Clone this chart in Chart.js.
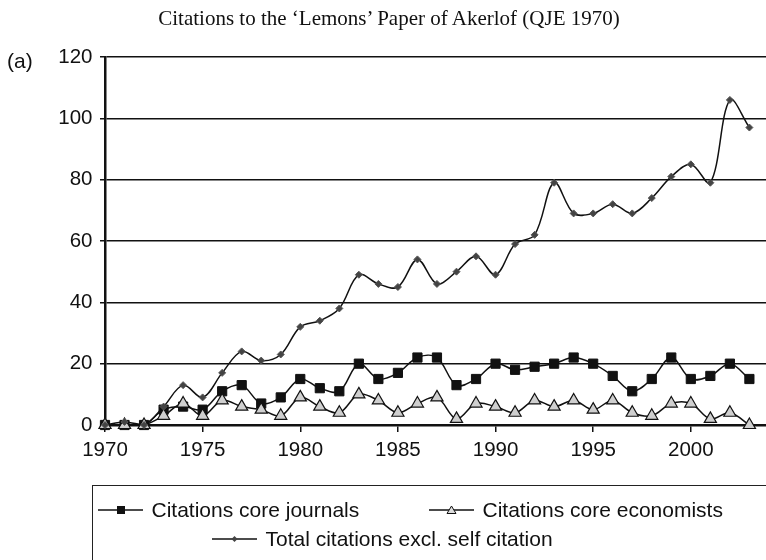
<!DOCTYPE html>
<html>
<head>
<meta charset="utf-8">
<script src="https://cdn.jsdelivr.net/npm/chart.js@4"></script>
<style>
  html, body { margin: 0; padding: 0; background: #fff; }
  #wrap { position: relative; width: 766px; height: 560px; overflow: hidden; }
  #chart { position: absolute; left: 0; top: 0; }
  #title { position: absolute; left: 0; width: 778px; top: 6px; text-align: center;
    font-family: "Liberation Serif", serif; font-size: 21px; color: #111; }
  #panel { position: absolute; left: 7px; top: 49px; font-family: "Liberation Sans", Arial, sans-serif;
    font-size: 21px; color: #111; }
  #legend { position: absolute; left: 92px; top: 485px; width: 700px; height: 100px;
    border: 1.5px solid #222; font-family: "Liberation Sans", Arial, sans-serif; font-size: 21px; color: #111; }
  .item { position: absolute; display: flex; align-items: center; white-space: nowrap; height: 24px; }
  .item svg { margin-right: 9px; }
</style>
</head>
<body>
<div id="wrap">
  <canvas id="chart" width="766" height="560"></canvas>
  <div id="title">Citations to the ‘Lemons’ Paper of Akerlof (QJE 1970)</div>
  <div id="panel">(a)</div>
  <div id="legend"></div>
</div>
<script>
const years = [];
for (let y = 1970; y <= 2003; y++) years.push(y);

const coreJournals = [0, 0, 0, 5, 6, 5, 11, 13, 7, 9, 15, 12, 11, 20, 15, 17, 22, 22,
  13, 15, 20, 18, 19, 20, 22, 20, 16, 11, 15, 22, 15, 16, 20, 15];
const coreEconomists = [0, 0, 0, 3, 7, 3, 8, 6, 5, 3, 9, 6, 4, 10, 8, 4, 7, 9,
  2, 7, 6, 4, 8, 6, 8, 5, 8, 4, 3, 7, 7, 2, 4, 0];
const totalExclSelf = [0, 1, 0, 6, 13, 9, 17, 24, 21, 23, 32, 34, 38, 49, 46, 45, 54, 46,
  50, 55, 49, 59, 62, 79, 69, 69, 72, 69, 74, 81, 85, 79, 106, 97];

const yTicks = [0, 20, 40, 60, 80, 100, 120];
const xTicks = [1970, 1975, 1980, 1985, 1990, 1995, 2000];

const seriesNames = ['Citations core journals', 'Citations core economists', 'Total citations excl. self citation'];

function pts(values) {
  return values.map((v, i) => ({ x: years[i], y: v }));
}

const tickFont = { family: '"Liberation Sans", Arial, sans-serif', size: 20.5 };

const ctx = document.getElementById('chart').getContext('2d');
new Chart(ctx, {
  type: 'line',
  data: {
    datasets: [
      {
        label: seriesNames[2],
        data: pts(totalExclSelf),
        borderColor: '#111',
        borderWidth: 1.5,
        pointStyle: 'rectRot',
        pointRadius: 3.5,
        pointBackgroundColor: '#444',
        pointBorderColor: '#555',
        pointBorderWidth: 1,
        tension: 0.35,
        clip: false,
        order: 0
      },
      {
        label: seriesNames[1],
        data: pts(coreEconomists),
        borderColor: '#111',
        borderWidth: 1.5,
        pointStyle: 'triangle',
        pointRadius: 7,
        pointBackgroundColor: '#cfcfcf',
        pointBorderColor: '#111',
        pointBorderWidth: 1.2,
        tension: 0.35,
        clip: false,
        order: 1
      },
      {
        label: seriesNames[0],
        data: pts(coreJournals),
        borderColor: '#111',
        borderWidth: 1.5,
        pointStyle: 'rect',
        pointRadius: 6.5,
        pointBackgroundColor: '#111',
        pointBorderColor: '#111',
        pointBorderWidth: 1,
        tension: 0.35,
        clip: false,
        order: 2
      }
    ]
  },
  options: {
    responsive: false,
    animation: false,
    layout: { autoPadding: false, padding: { left: 0, right: 0, top: 57, bottom: 100 } },
    plugins: {
      legend: { display: false },
      tooltip: { enabled: false },
      title: { display: false }
    },
    scales: {
      x: {
        type: 'linear',
        min: 1970,
        max: 2003.85,
        afterFit: s => { s.height = 35; },
        afterBuildTicks: s => { s.ticks = xTicks.map(v => ({ value: v })); },
        ticks: {
          color: '#111',
          padding: 6,
          font: tickFont,
          maxRotation: 0,
          callback: v => String(v)
        },
        grid: {
          drawOnChartArea: false,
          drawTicks: true,
          tickLength: 7,
          color: '#111',
          lineWidth: 1.5
        },
        border: { color: '#111', width: 2.5 }
      },
      y: {
        min: 0,
        max: 120,
        afterFit: s => { s.width = 105; },
        afterBuildTicks: s => { s.ticks = yTicks.map(v => ({ value: v })); },
        ticks: {
          color: '#111',
          padding: 7.5,
          font: tickFont
        },
        grid: {
          color: '#111',
          lineWidth: 1.5,
          tickLength: 5
        },
        border: { color: '#111', width: 2.5 }
      }
    }
  }
});

// legend drawn as html, symbols as small svg line + marker
function symbol(kind) {
  let m = '';
  if (kind === 0) m = '<rect x="19" y="3" width="8" height="8" fill="#111"/>';
  if (kind === 1) m = '<polygon points="22.5,3 27,10.5 18,10.5" fill="#ddd" stroke="#111" stroke-width="1"/>';
  if (kind === 2) m = '<polygon points="22.5,4 25.5,7 22.5,10 19.5,7" fill="#444"/>';
  return '<svg width="45" height="14"><line x1="0" y1="7" x2="45" y2="7" stroke="#111" stroke-width="1.5"/>' + m + '</svg>';
}
const legendPos = [[4.5, 11.5], [335.5, 11.5], [118.5, 41]];
const legend = document.getElementById('legend');
seriesNames.forEach((name, i) => {
  const d = document.createElement('div');
  d.className = 'item';
  d.style.left = legendPos[i][0] + 'px';
  d.style.top = legendPos[i][1] + 'px';
  d.innerHTML = symbol(i) + '<span>' + name + '</span>';
  legend.appendChild(d);
});
</script>
</body>
</html>
